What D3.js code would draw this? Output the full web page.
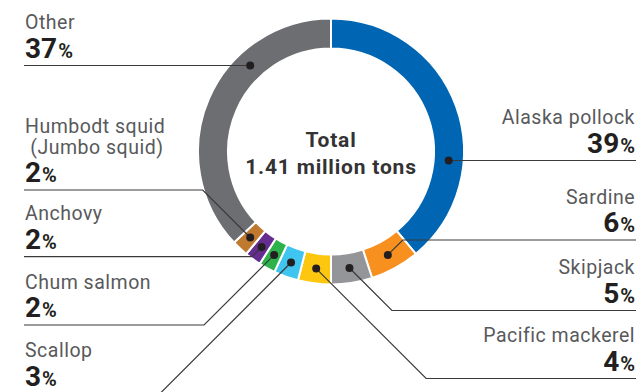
<!DOCTYPE html>
<html>
<head>
<meta charset="utf-8">
<script src="https://cdn.jsdelivr.net/npm/d3@7"></script>
<style>
  html, body { margin: 0; padding: 0; background: #fff; }
  svg { display: block; font-family: Roboto, "Noto Sans", sans-serif; }
</style>
</head>
<body>
<svg id="chart" width="636" height="392"></svg>
<script>
// ---- data ----
const species = ["Alaska pollock", "Sardine", "Skipjack", "Pacific mackerel", "Scallop",
                 "Chum salmon", "Anchovy", "Humbodt squid| (Jumbo squid)", "Other"];
const shares = [39, 6, 5, 4, 3, 2, 2, 2, 37];
const totalText = ["Total", "1.41 million tons"];

// ---- styling / layout (kept apart from data) ----
const sliceColors = ["#0066b3", "#f7901e", "#939598", "#fdc70f", "#40c4f0",
                     "#2eb24b", "#662d91", "#bf7a30", "#6d6e71"];
const labelSide = ["right", "right", "right", "right", "left", "left", "left", "left", "left"];
const labelLineY = [160.5, 240, 310.5, 378.5, 393.5, 325, 256.7, 190, 65.5];
const anchorMode = ["horizontal", "diag", "diag", "diag", "diag", "diag", "diag", "diag", "horizontal"];

const W = 636, H = 392;
const cx = 331, cy = 151.5;
const outerR = 133, innerR = 103, midR = (outerR + innerR) / 2;

const svg = d3.select("#chart");
const g = svg.append("g").attr("transform", `translate(${cx},${cy})`);

const pie = d3.pie().sort(null).value(d => d).startAngle(0).endAngle(2 * Math.PI);
const arcs = pie(shares);
const arc = d3.arc().innerRadius(innerR).outerRadius(outerR);

g.selectAll("path.slice")
  .data(arcs)
  .join("path")
  .attr("class", "slice")
  .attr("d", arc)
  .attr("fill", (d, i) => sliceColors[i])
  .attr("stroke", "#fff")
  .attr("stroke-width", 2);

// center text
svg.append("text").attr("x", cx).attr("y", 146.7).attr("text-anchor", "middle")
  .attr("font-size", 21).attr("font-weight", 700).attr("fill", "#333")
  .attr("letter-spacing", 0.8)
  .text(totalText[0]);
svg.append("text").attr("x", cx).attr("y", 174).attr("text-anchor", "middle")
  .attr("font-size", 21).attr("font-weight", 700).attr("fill", "#333")
  .attr("letter-spacing", 0.8)
  .text(totalText[1]);

// leader lines & dots
const leaders = arcs.map((a, i) => {
  const ly = labelLineY[i];
  const side = labelSide[i];
  let dx, dy;
  if (anchorMode[i] === "horizontal") {
    dy = ly - cy;
    const off = Math.sqrt(midR * midR - dy * dy);
    dx = side === "right" ? off : -off;
  } else {
    const m = (a.startAngle + a.endAngle) / 2;
    dx = midR * Math.sin(m);
    dy = -midR * Math.cos(m);
  }
  const px = cx + dx, py = cy + dy;
  const vert = Math.abs(ly - py);
  const cornerX = side === "right" ? px + vert : px - vert;
  const endX = side === "right" ? W : 24;
  const pts = anchorMode[i] === "horizontal"
    ? [[px, py], [endX, ly]]
    : [[px, py], [cornerX, ly], [endX, ly]];
  return { px, py, pts };
});

svg.selectAll("polyline.leader")
  .data(leaders)
  .join("polyline")
  .attr("class", "leader")
  .attr("points", d => d.pts.map(p => p.join(",")).join(" "))
  .attr("fill", "none")
  .attr("stroke", "#3a3a3a")
  .attr("stroke-width", 1.2);

svg.selectAll("circle.dot")
  .data(leaders)
  .join("circle")
  .attr("class", "dot")
  .attr("cx", d => d.px)
  .attr("cy", d => d.py)
  .attr("r", 4)
  .attr("fill", "#231f20");

// labels
species.forEach((name, i) => {
  const side = labelSide[i];
  const x = side === "right" ? 635 : 25;
  const anchor = side === "right" ? "end" : "start";
  const ly = labelLineY[i];
  const lines = name.split("|");
  const lastBase = ly - 36.5;
  lines.forEach((ln, k) => {
    svg.append("text")
      .attr("x", x)
      .attr("y", lastBase - (lines.length - 1 - k) * 21)
      .attr("text-anchor", anchor)
      .attr("font-size", 19.5)
      .attr("letter-spacing", 0.5)
      .attr("fill", "#58595b")
      .attr("xml:space", "preserve")
      .style("white-space", "pre")
      .text(ln);
  });
  const t = svg.append("text")
    .attr("x", x)
    .attr("y", ly - 8)
    .attr("text-anchor", anchor)
    .attr("font-weight", 700)
    .attr("fill", "#231f20");
  t.append("tspan").attr("font-size", 28).text(shares[i]);
  t.append("tspan").attr("font-size", 20).attr("dx", 1).text("%");
});
</script>
</body>
</html>
